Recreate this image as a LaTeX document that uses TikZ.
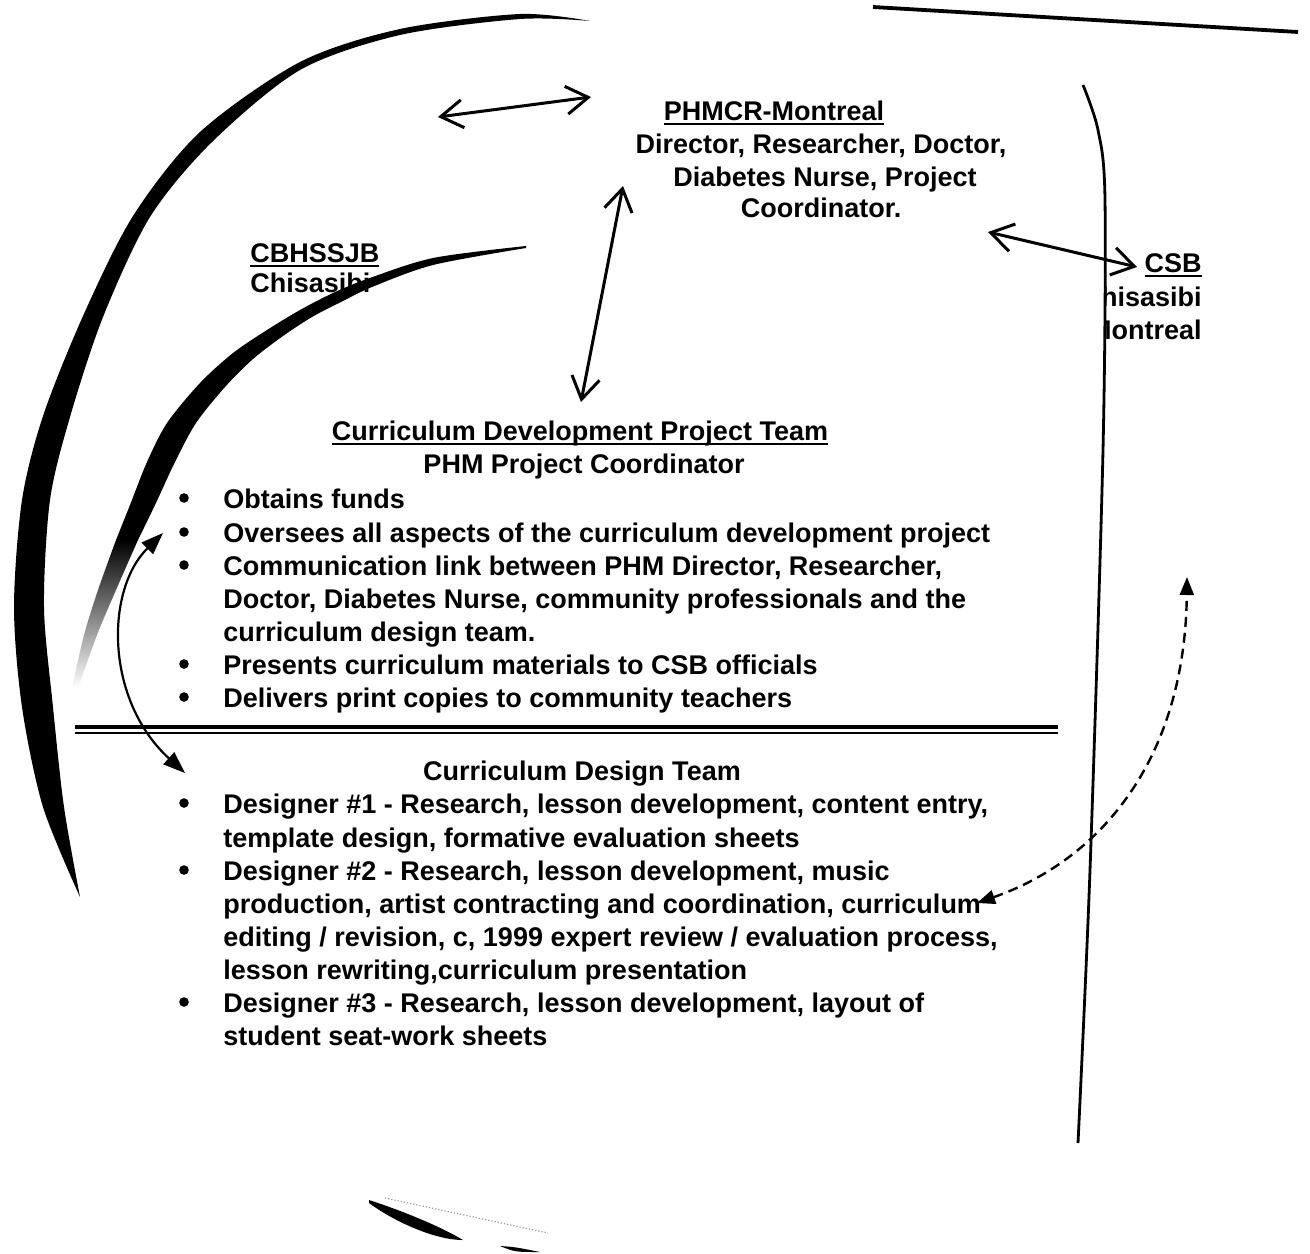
\documentclass[tikz,border=0pt]{standalone}
\usepackage{fontspec}
\setmainfont{Liberation Sans}
\usetikzlibrary{arrows.meta,positioning,calc}
\newcommand{\ulhead}[1]{\setbox0\hbox{#1}\rlap{\rule[-2.6pt]{\wd0}{1.2pt}}\box0}

\begin{document}
\begin{tikzpicture}[
  x=0.5pt, y=-0.5pt,
  font=\fontsize{13.5}{16.5}\selectfont\bfseries,
  txt/.style={inner sep=0pt, anchor=base west},
  ctrtext/.style={inner sep=0pt, anchor=base},
  bul/.style={circle, fill, inner sep=0pt, minimum size=4.8pt},
  link/.style={{Straight Barb[length=11pt,width=14pt]}-{Straight Barb[length=11pt,width=14pt]}, line width=1.5pt},
  solidlink/.style={{Triangle[length=11pt,width=8pt]}-{Triangle[length=11pt,width=8pt]}, line width=1.1pt},
  dashlink/.style={{Triangle[length=9pt,width=7pt]}-{Triangle[length=9pt,width=7pt]}, dash pattern=on 5pt off 3pt, line width=1.2pt},
  rim/.style={line width=1.4pt},
]
\fill[white] (0,0) rectangle (1310,1253);
\useasboundingbox (0,0) rectangle (1310,1253);
% PHMCR block
\node[ctrtext] (phmcr) at (774,120) {\ulhead{PHMCR-Montreal}};
\node[ctrtext] (phmcrA) at (821,153) {Director, Researcher, Doctor,};
\node[ctrtext] (phmcrB) at (825,186) {Diabetes Nurse, Project};
\node[ctrtext] (phmcrC) at (821,217) {Coordinator.};
% side labels
\node[txt] (cbh) at (250,262) {\ulhead{CBHSSJB}};
\node[txt] (cbhB) at (250,292) {Chisasibi};
\node[txt, anchor=base east] (csb) at (1202,272) {\ulhead{CSB}};
\begin{scope}
  \clip (1106,280) rectangle (1310,360);
  \node[txt, anchor=base east] (csbA) at (1202,306) {Chisasibi};
  \node[txt, anchor=base east] (csbB) at (1202,339) {Montreal};
\end{scope}
% project team
\node[ctrtext] (cdpt) at (580,440) {\ulhead{Curriculum Development Project Team}};
\node[ctrtext] (phmpc) at (584,473) {PHM Project Coordinator};
\node[txt] (funds) at (223,508) {Obtains funds};
\node[txt] (overs) at (223,542) {Oversees all aspects of the curriculum development project};
\node[txt] (commA) at (223,575) {Communication link between PHM Director, Researcher,};
\node[txt] (commB) at (223,608) {Doctor, Diabetes Nurse, community professionals and the};
\node[txt] (commC) at (223,641) {curriculum design team.};
\node[txt] (pres) at (223,674) {Presents curriculum materials to CSB officials};
\node[txt] (deliv) at (223,707) {Delivers print copies to community teachers};
\draw[line width=1.8pt] (75,727) -- (1058,727);
\draw[line width=0.8pt] (75,733) -- (1058,733);
% design team
\node[ctrtext] (cdt) at (582,780) {Curriculum Design Team};
\node[txt] (dsgA) at (223,813) {Designer \#1 - Research, lesson development, content entry,};
\node[txt] (dsgB) at (223,847) {template design, formative evaluation sheets};
\node[txt] (dsgC) at (223,880) {Designer \#2 - Research, lesson development, music};
\node[txt] (dsgD) at (223,913) {production, artist contracting and coordination, curriculum};
\node[txt] (dsgE) at (223,946) {editing / revision, c, 1999 expert review / evaluation process,};
\node[txt] (dsgF) at (223,979) {lesson rewriting,curriculum presentation};
\node[txt] (dsgG) at (223,1012) {Designer \#3 - Research, lesson development, layout of};
\node[txt] (dsgH) at (223,1045) {student seat-work sheets};
\foreach \y/\n in {508/1,542/2,575/3,674/4,707/5,813/6,880/7,1012/8}
  \node[bul] (bul\n) at (184,\y-10) {};
% outer and inner arcs
\fill plot[smooth] coordinates {(590,21) (520,14) (400,29) (300,62) (200,132) (133,216) (83,316) (43,416) (22,500) (14,607) (22,707) (43,807) (80,897)}
  -- plot[smooth] coordinates {(80,897) (64,807) (53,707) (44,607) (50,500) (70,417) (103,317) (150,217) (212,142) (300,70) (400,35) (520,19) (590,21)} -- cycle;
\fill plot[smooth] coordinates {(526,246) (433,258) (367,279) (333,293) (300,310) (267,330) (233,353) (200,383) (167,423) (147,462) (130,505) (116,540)}
  -- plot[smooth] coordinates {(138,540) (155,505) (175,462) (196,423) (225,387) (253,359) (283,336) (312,317) (341,302) (372,287) (433,265) (526,248)} -- cycle;
\shade[top color=black, bottom color=white] plot[smooth] coordinates {(116,540) (98,590) (84,635) (72,688)}
  -- plot[smooth] coordinates {(78,688) (97,635) (116,590) (138,540)} -- cycle;
\draw[rim] plot[smooth] coordinates {(1083,85) (1098,130) (1105,200) (1103,450) (1090,870) (1078,1143)};
\draw[line width=1.9pt] (873,7) -- (1298,32);
% bottom smudges
\fill (369,1200) .. controls (400,1210) and (440,1226) .. (463,1240) .. controls (435,1240) and (395,1222) .. (369,1203) -- cycle;
\fill (500,1246) .. controls (515,1247) .. (540,1252) .. controls (515,1252) .. (500,1246);
\draw[black!40, densely dotted, line width=0.6pt] (385,1198) -- (548,1233);
% connectors
\coordinate (topL) at (438,117);
\coordinate (topR) at (591,97);
\coordinate (vertT) at (623,186);
\coordinate (vertB) at (581,402);
\coordinate (csbL) at (988,232);
\coordinate (csbR) at (1137,267);
\coordinate (loopT) at (163,533);
\coordinate (loopB) at (185,773);
\coordinate (dashL) at (977,903);
\coordinate (dashT) at (1187,577);
\draw[link] (topL) -- (topR);
\draw[link] (vertT) -- (vertB);
\draw[link] (csbL) -- (csbR);
\draw[solidlink] (loopB) .. controls (105,700) and (105,590) .. (loopT);
\draw[dashlink] (dashL) .. controls (1100,860) and (1185,760) .. (dashT);
\end{tikzpicture}
\end{document}
